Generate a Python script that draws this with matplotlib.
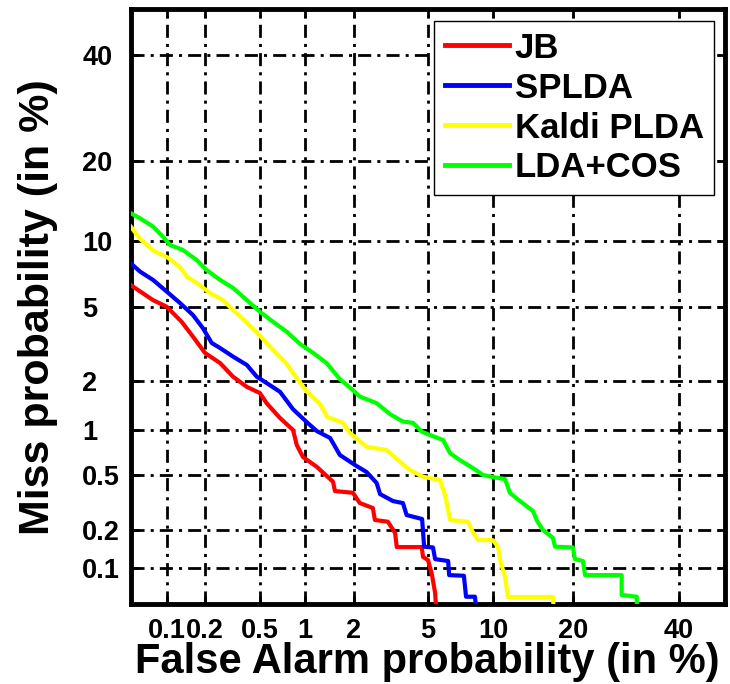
import numpy as np
import matplotlib
matplotlib.use("Agg")
import matplotlib.pyplot as plt
from statistics import NormalDist

# DET curves, values in %  (false alarm, miss)
jb_fa = [0.05, 0.0768, 0.0995, 0.131, 0.161, 0.199, 0.259, 0.322, 0.405, 0.501,
         0.557, 0.687, 0.838, 0.887, 0.973, 1.19, 1.50, 1.54, 1.97, 2.16,
         2.56, 2.63, 3.10, 3.39, 3.46, 4.66, 4.73, 5.01, 5.23, 5.43, 5.52]
jb_miss = [6.36, 5.39, 5.0, 4.20, 3.51, 2.87, 2.52, 2.11, 1.84, 1.69,
           1.47, 1.19, 1.0, 0.798, 0.664, 0.570, 0.449, 0.386, 0.375, 0.316,
           0.291, 0.237, 0.230, 0.189, 0.147, 0.147, 0.123, 0.116, 0.0895, 0.0623, 0.04]

splda_fa = [0.05, 0.060, 0.077, 0.10, 0.127, 0.161, 0.192, 0.224, 0.259, 0.322,
            0.405, 0.476, 0.588, 0.687, 0.838, 1.03, 1.19, 1.44, 1.65, 2.07,
            2.36, 2.69, 2.81, 3.30, 3.73, 3.90, 4.68, 4.79, 5.30, 5.43,
            6.27, 6.34, 7.42, 7.59, 8.32, 8.48]
splda_miss = [8.0, 7.34, 6.72, 5.91, 5.22, 4.54, 3.89, 3.25, 3.05, 2.74,
              2.46, 2.11, 1.88, 1.72, 1.35, 1.12, 0.985, 0.887, 0.685, 0.577,
              0.525, 0.440, 0.367, 0.327, 0.316, 0.258, 0.241, 0.148, 0.146, 0.118,
              0.114, 0.0877, 0.0866, 0.058, 0.058, 0.04]

kaldi_fa = [0.05, 0.060, 0.0784, 0.100, 0.127, 0.145, 0.173, 0.217, 0.272, 0.322,
            0.400, 0.494, 0.616, 0.753, 0.877, 1.02, 1.25, 1.38, 1.72, 1.89,
            2.36, 3.05, 3.46, 4.06, 4.73, 5.73, 6.06, 6.27, 6.40, 7.74,
            8.08, 8.58, 9.96, 10.46, 10.66, 11.18, 11.49, 17.07, 17.2]
kaldi_miss = [11.47, 10.2, 9.06, 8.53, 7.71, 6.94, 6.50, 5.83, 5.39, 4.82,
              4.19, 3.59, 2.98, 2.52, 2.10, 1.74, 1.45, 1.21, 1.11, 0.956,
              0.778, 0.740, 0.644, 0.542, 0.487, 0.462, 0.362, 0.281, 0.237, 0.230,
              0.196, 0.167, 0.166, 0.147, 0.116, 0.0845, 0.0577, 0.0577, 0.04]

ldacos_fa = [0.05, 0.060, 0.077, 0.0929, 0.106, 0.134, 0.172, 0.205, 0.259, 0.322,
             0.405, 0.501, 0.616, 0.761, 0.931, 1.13, 1.37, 1.65, 1.97, 2.16,
             2.69, 3.18, 3.73, 4.21, 4.66, 5.12, 5.93, 6.40, 7.11, 8.15,
             9.03, 9.96, 11.18, 11.70, 12.83, 14.41, 14.92, 15.70, 17.07, 17.35,
             20.02, 20.33, 21.6, 21.95, 28.4, 28.4, 31.3, 31.3]
ldacos_miss = [12.97, 12.38, 11.47, 10.42, 9.62, 9.16, 8.28, 7.46, 6.72, 6.17,
               5.39, 4.72, 4.20, 3.73, 3.21, 2.87, 2.52, 2.04, 1.76, 1.61,
               1.47, 1.26, 1.13, 1.11, 0.975, 0.928, 0.861, 0.706, 0.633, 0.559,
               0.500, 0.484, 0.469, 0.374, 0.327, 0.276, 0.233, 0.199, 0.173, 0.148,
               0.146, 0.118, 0.114, 0.0877, 0.0877, 0.060, 0.058, 0.04]

ticks = [0.1, 0.2, 0.5, 1, 2, 5, 10, 20, 40]
tick_labels = ['0.1', '0.2', '0.5', '1', '2', '5', '10', '20', '40']

# normal deviate scale
_nd = NormalDist()
_ppf = np.vectorize(_nd.inv_cdf, otypes=[float])
_cdf = np.vectorize(_nd.cdf, otypes=[float])


def probit(p):
    p = np.clip(np.asarray(p, dtype=float) / 100.0, 1e-7, 1 - 1e-7)
    return _ppf(p)


def inv_probit(z):
    return _cdf(np.asarray(z, dtype=float)) * 100.0


plt.rcParams['font.family'] = ['Liberation Sans', 'DejaVu Sans']
plt.rcParams['font.weight'] = 'bold'

fig = plt.figure(figsize=(7.3, 6.84), dpi=100)
ax = fig.add_axes([0.1792, 0.1165, 0.8136, 0.8699])
ax.set_xscale('function', functions=(probit, inv_probit))
ax.set_yscale('function', functions=(probit, inv_probit))

ax.plot(jb_fa, jb_miss, color='#ff0000', lw=3, label='JB', zorder=3)
ax.plot(splda_fa, splda_miss, color='#0000ff', lw=3, label='SPLDA', zorder=3)
ax.plot(kaldi_fa, kaldi_miss, color='#ffff00', lw=3, label='Kaldi PLDA', zorder=3)
ax.plot(ldacos_fa, ldacos_miss, color='#00ff00', lw=3, label='LDA+COS', zorder=3)

ax.set_xlim(0.05, 50)
ax.set_ylim(0.05, 50)
ax.set_xticks(ticks)
ax.set_xticklabels(tick_labels)
ax.set_yticks(ticks)
ax.set_yticklabels(tick_labels, ha='left')
ax.minorticks_off()

ax.grid(True, color='k', lw=2, linestyle=(0, (4.7, 2.2, 1.1, 2.2)))
ax.tick_params(direction='in', length=6, width=2, top=True, right=True,
               labelsize=19.5)
ax.tick_params(axis='x', pad=10)
ax.tick_params(axis='y', pad=35)
for s in ax.spines.values():
    s.set_linewidth(3.5)

ax.set_xlabel('False Alarm probability (in %)', fontsize=30, fontweight='bold')
ax.xaxis.set_label_coords(0.5, -0.116)
ax.xaxis.label.set_va('baseline')
ax.set_ylabel('Miss probability (in %)', fontsize=31, fontweight='bold')
ax.yaxis.set_label_coords(-0.156, 0.5)
ax.yaxis.label.set_va('center')

leg = ax.legend(loc='upper right', bbox_to_anchor=(0.982, 0.980), borderaxespad=0,
                fancybox=False, edgecolor='k', framealpha=1, fontsize=25,
                handlelength=1.84, handletextpad=0.17, labelspacing=0.2, borderpad=0.3)
leg.get_frame().set_linewidth(1)
for line in leg.get_lines():
    line.set_linewidth(3.5)

fig.savefig('out.png', dpi=100)
